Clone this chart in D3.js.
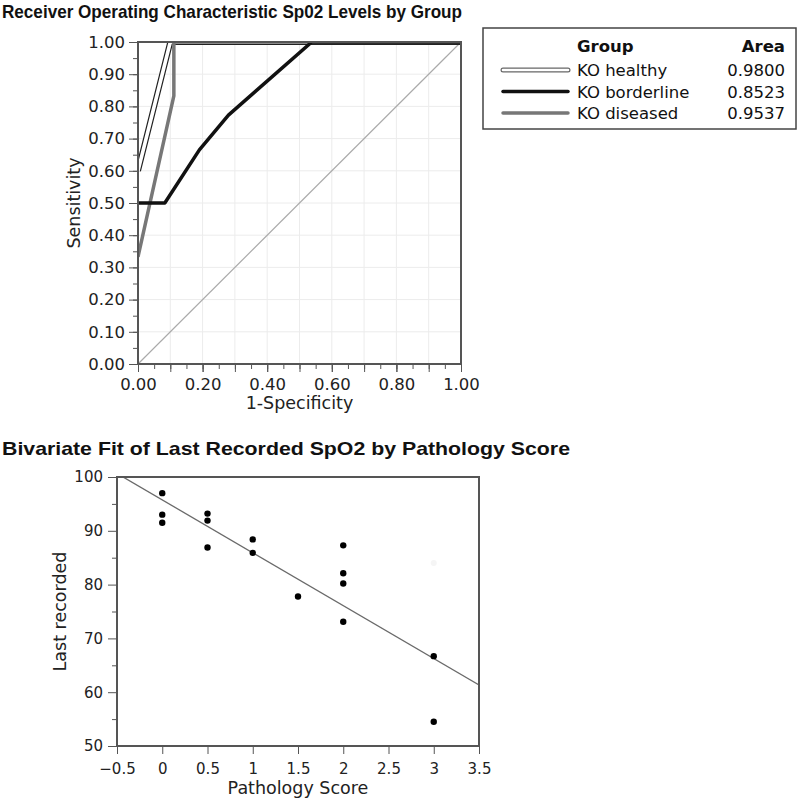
<!DOCTYPE html>
<html lang="en">
<head>
    <meta charset="UTF-8">
    <title>ROC and Bivariate Fit - SpO2</title>
    <script type="text/javascript" src="https://cdn.jsdelivr.net/npm/d3@7"></script>
    <style>
        body { margin: 0; background: #fff; }
        .title { font-family: "Liberation Sans", Arial, sans-serif; font-weight: bold; fill: #111; }
        .axis text { font-family: "DejaVu Sans", sans-serif; fill: #222; }
        .roc-axis text { font-size: 16.5px; }
        .biv-axis text { font-size: 15px; }
        .axis path, .axis line { stroke: #555; }
        .axis-label { font-family: "DejaVu Sans", sans-serif; font-size: 17.5px; fill: #222; }
        .legend text { font-family: "DejaVu Sans", sans-serif; font-size: 16.5px; fill: #111; }
    </style>
</head>
<body>
<div id="chart"></div>
<script>
    // ROC data
    const rocGroups = ["KO healthy", "KO borderline", "KO diseased"];
    const rocAreas = ["0.9800", "0.8523", "0.9537"];
    const healthyFpr = [0, 0.1, 1];
    const healthySens = [0.6, 1, 1];
    const borderlineFpr = [0, 0.083, 0.19, 0.28, 0.538, 1];
    const borderlineSens = [0.5, 0.5, 0.665, 0.773, 1, 1];
    const diseasedFpr = [0, 0.111, 0.111, 1];
    const diseasedSens = [0.333, 0.833, 1, 1];

    // Bivariate data
    const pathologyScore = [0, 0, 0, 0.5, 0.5, 0.5, 1, 1, 1.5, 2, 2, 2, 2, 3, 3];
    const lastSpO2 = [97.0, 93.0, 91.5, 93.2, 91.9, 86.9, 88.4, 85.9, 77.8, 87.3, 82.1, 80.2, 73.1, 66.7, 54.5];
    // faint (excluded) point
    const excludedScore = [3];
    const excludedSpO2 = [84.0];

    const width = 800;
    const height = 800;

    const svg = d3.select("#chart")
        .append("svg")
        .attr("width", width)
        .attr("height", height);

    svg.append("rect").attr("width", width).attr("height", height).attr("fill", "#fff");
    const defs = svg.append("defs");

    // ---------- ROC chart ----------
    const roc = { left: 138, right: 461, top: 42, bottom: 364 };

    svg.append("text").attr("class", "title")
        .attr("x", 2).attr("y", 18)
        .attr("font-size", 19)
        .attr("textLength", 460).attr("lengthAdjust", "spacingAndGlyphs")
        .text("Receiver Operating Characteristic Sp02 Levels by Group");

    const rx = d3.scaleLinear().domain([0, 1]).range([roc.left, roc.right]);
    const ry = d3.scaleLinear().domain([0, 1]).range([roc.bottom, roc.top]);

    defs.append("clipPath").attr("id", "rocClip")
        .append("rect")
        .attr("x", roc.left).attr("y", roc.top)
        .attr("width", roc.right - roc.left).attr("height", roc.bottom - roc.top);

    // light grid
    const gridVals = d3.range(1, 10).map(d => d / 10);
    svg.append("g").selectAll("line.gx").data(gridVals).enter().append("line")
        .attr("x1", d => rx(d)).attr("x2", d => rx(d))
        .attr("y1", roc.top).attr("y2", roc.bottom)
        .attr("stroke", "#ececec").attr("stroke-width", 1);
    svg.append("g").selectAll("line.gy").data(gridVals).enter().append("line")
        .attr("y1", d => ry(d)).attr("y2", d => ry(d))
        .attr("x1", roc.left).attr("x2", roc.right)
        .attr("stroke", "#ececec").attr("stroke-width", 1);

    // diagonal reference
    svg.append("line")
        .attr("x1", rx(0)).attr("y1", ry(0)).attr("x2", rx(1)).attr("y2", ry(1))
        .attr("stroke", "#aaa").attr("stroke-width", 1.2);

    const rocLine = d3.line().x(d => rx(d[0])).y(d => ry(d[1]));
    const plotLayer = svg.append("g").attr("clip-path", "url(#rocClip)");

    // healthy: double line (dark outline + white center)
    const healthyPts = d3.zip(healthyFpr, healthySens);
    plotLayer.append("path").attr("d", rocLine(healthyPts))
        .attr("fill", "none").attr("stroke", "#222").attr("stroke-width", 6);
    plotLayer.append("path").attr("d", rocLine(healthyPts))
        .attr("fill", "none").attr("stroke", "#fff").attr("stroke-width", 3.6);

    plotLayer.append("path").attr("d", rocLine(d3.zip(diseasedFpr, diseasedSens)))
        .attr("fill", "none").attr("stroke", "#777").attr("stroke-width", 3.5);

    plotLayer.append("path").attr("d", rocLine(d3.zip(borderlineFpr, borderlineSens)))
        .attr("fill", "none").attr("stroke", "#111").attr("stroke-width", 3.5)
        .attr("stroke-linejoin", "round");

    // frame
    svg.append("rect")
        .attr("x", roc.left).attr("y", roc.top)
        .attr("width", roc.right - roc.left).attr("height", roc.bottom - roc.top)
        .attr("fill", "none").attr("stroke", "#555").attr("stroke-width", 2);

    // axes: minor ticks then major ticks with labels
    const rocMinor = d3.range(0, 1.0001, 0.05);
    const rocXMajor = d3.range(0, 1.0001, 0.2);
    const rocYMajor = d3.range(0, 1.0001, 0.1);

    svg.append("g").attr("class", "axis roc-axis")
        .attr("transform", `translate(0,${roc.bottom})`)
        .call(d3.axisBottom(rx).tickValues(rocMinor).tickSize(5).tickFormat(""))
        .call(g => g.select(".domain").remove());
    svg.append("g").attr("class", "axis roc-axis")
        .attr("transform", `translate(0,${roc.bottom})`)
        .call(d3.axisBottom(rx).tickValues(d3.range(0, 1.0001, 0.1)).tickSize(8).tickFormat(""))
        .call(g => g.select(".domain").remove());
    svg.append("g").attr("class", "axis roc-axis")
        .attr("transform", `translate(0,${roc.bottom})`)
        .call(d3.axisBottom(rx).tickValues(rocXMajor).tickSize(8).tickPadding(6).tickFormat(d3.format(".2f")))
        .call(g => g.select(".domain").remove());

    svg.append("g").attr("class", "axis roc-axis")
        .attr("transform", `translate(${roc.left},0)`)
        .call(d3.axisLeft(ry).tickValues(rocMinor).tickSize(5).tickFormat(""))
        .call(g => g.select(".domain").remove());
    svg.append("g").attr("class", "axis roc-axis")
        .attr("transform", `translate(${roc.left},0)`)
        .call(d3.axisLeft(ry).tickValues(rocYMajor).tickSize(9).tickPadding(4).tickFormat(d3.format(".2f")))
        .call(g => g.select(".domain").remove());

    svg.append("text").attr("class", "axis-label")
        .attr("x", (roc.left + roc.right) / 2).attr("y", 409)
        .attr("text-anchor", "middle")
        .text("1-Specificity");
    svg.append("text").attr("class", "axis-label")
        .attr("transform", `translate(80,${(roc.top + roc.bottom) / 2}) rotate(-90)`)
        .attr("text-anchor", "middle")
        .attr("font-size", 16.5)
        .text("Sensitivity");

    // legend
    const legend = svg.append("g").attr("class", "legend");
    legend.append("rect")
        .attr("x", 483).attr("y", 28).attr("width", 313).attr("height", 101)
        .attr("fill", "#fff").attr("stroke", "#444").attr("stroke-width", 1.5);
    legend.append("text").attr("x", 577).attr("y", 52)
        .attr("font-weight", "bold").text("Group");
    legend.append("text").attr("x", 785).attr("y", 52)
        .attr("text-anchor", "end").attr("font-weight", "bold").text("Area");

    const legendStroke = ["#666", "#111", "#777"];
    const rows = legend.selectAll("g.row").data(rocGroups).enter().append("g")
        .attr("transform", (d, i) => `translate(0,${70 + i * 21.5})`);
    rows.append("line").attr("x1", 503).attr("x2", 568).attr("y1", 0).attr("y2", 0)
        .attr("stroke", (d, i) => legendStroke[i])
        .attr("stroke-width", (d, i) => i === 0 ? 5 : 3.5)
        .attr("stroke-linecap", "round");
    rows.filter((d, i) => i === 0).append("line")
        .attr("x1", 503).attr("x2", 568).attr("y1", 0).attr("y2", 0)
        .attr("stroke", "#fff").attr("stroke-width", 2.6).attr("stroke-linecap", "round");
    rows.append("text").attr("x", 577).attr("y", 6).text(d => d);
    rows.append("text").attr("x", 785).attr("y", 6).attr("text-anchor", "end")
        .text((d, i) => rocAreas[i]);

    // ---------- Bivariate fit ----------
    const biv = { left: 117, right: 479, top: 477, bottom: 746 };

    svg.append("text").attr("class", "title")
        .attr("x", 2).attr("y", 455)
        .attr("font-size", 18.5)
        .attr("textLength", 568).attr("lengthAdjust", "spacingAndGlyphs")
        .text("Bivariate Fit of Last Recorded SpO2 by Pathology Score");

    const bx = d3.scaleLinear().domain([-0.5, 3.5]).range([biv.left, biv.right]);
    const by = d3.scaleLinear().domain([50, 100]).range([biv.bottom, biv.top]);

    defs.append("clipPath").attr("id", "bivClip")
        .append("rect")
        .attr("x", biv.left).attr("y", biv.top)
        .attr("width", biv.right - biv.left).attr("height", biv.bottom - biv.top);

    // least squares fit from the points
    const mx = d3.mean(pathologyScore);
    const my = d3.mean(lastSpO2);
    let sxy = 0, sxx = 0;
    pathologyScore.forEach((x, i) => {
        sxy += (x - mx) * (lastSpO2[i] - my);
        sxx += (x - mx) * (x - mx);
    });
    const slope = sxy / sxx;
    const intercept = my - slope * mx;

    svg.append("g").attr("clip-path", "url(#bivClip)")
        .append("line")
        .attr("x1", bx(-0.5)).attr("y1", by(intercept + slope * -0.5))
        .attr("x2", bx(3.5)).attr("y2", by(intercept + slope * 3.5))
        .attr("stroke", "#6a6a6a").attr("stroke-width", 1.3);

    svg.append("g").selectAll("circle.ex").data(excludedScore).enter().append("circle")
        .attr("cx", d => bx(d)).attr("cy", (d, i) => by(excludedSpO2[i]))
        .attr("r", 3).attr("fill", "#f5f5f5");

    svg.append("g").selectAll("circle.pt").data(pathologyScore).enter().append("circle")
        .attr("cx", d => bx(d)).attr("cy", (d, i) => by(lastSpO2[i]))
        .attr("r", 3.2).attr("fill", "#000");

    svg.append("rect")
        .attr("x", biv.left).attr("y", biv.top)
        .attr("width", biv.right - biv.left).attr("height", biv.bottom - biv.top)
        .attr("fill", "none").attr("stroke", "#555").attr("stroke-width", 2);

    svg.append("g").attr("class", "axis biv-axis")
        .attr("transform", `translate(0,${biv.bottom})`)
        .call(d3.axisBottom(bx).tickValues(d3.range(-0.5, 3.5001, 0.5)).tickSize(8).tickPadding(9)
            .tickFormat(d => d3.format("")(d).replace("-", "\u2212")))
        .call(g => g.select(".domain").remove());

    svg.append("g").attr("class", "axis biv-axis")
        .attr("transform", `translate(${biv.left},0)`)
        .call(d3.axisLeft(by).tickValues(d3.range(55, 100, 10)).tickSize(5).tickFormat(""))
        .call(g => g.select(".domain").remove());
    svg.append("g").attr("class", "axis biv-axis")
        .attr("transform", `translate(${biv.left},0)`)
        .call(d3.axisLeft(by).tickValues(d3.range(50, 100.001, 10)).tickSize(9).tickPadding(5))
        .call(g => g.select(".domain").remove());

    svg.append("text").attr("class", "axis-label")
        .attr("x", (biv.left + biv.right) / 2).attr("y", 794)
        .attr("text-anchor", "middle")
        .attr("font-size", 17)
        .text("Pathology Score");
    svg.append("text").attr("class", "axis-label")
        .attr("transform", `translate(66,${(biv.top + biv.bottom) / 2}) rotate(-90)`)
        .attr("text-anchor", "middle")
        .text("Last recorded");
</script>
</body>
</html>
